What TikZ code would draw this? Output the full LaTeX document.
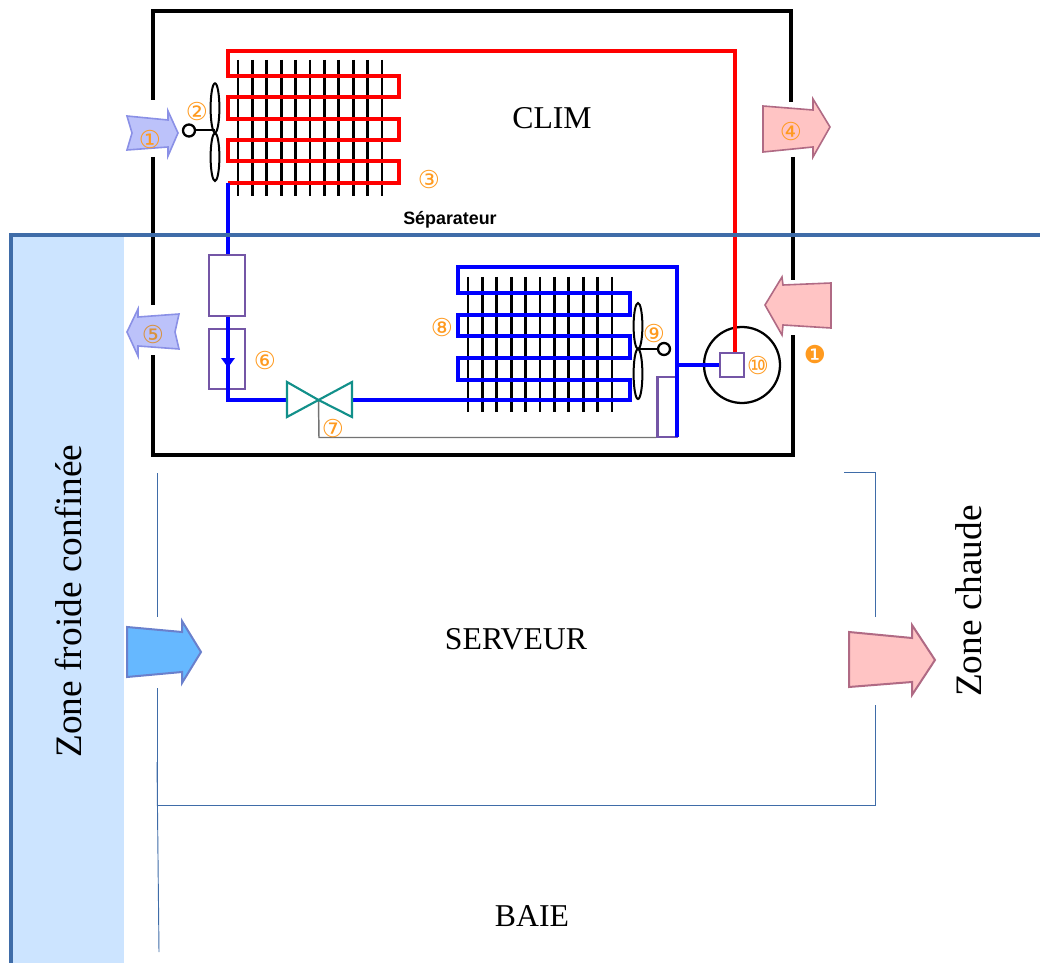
\documentclass[tikz,border=0pt]{standalone}
\usepackage{fontspec}
\setmainfont{Liberation Serif}
\newfontfamily\sepfont{Liberation Sans}
\newfontfamily\numfont{DejaVu Sans}
\usetikzlibrary{shapes.geometric}
\definecolor{zoneblue}{HTML}{CCE4FF}
\definecolor{lineblue}{HTML}{3F6CA8}
\definecolor{boxpurple}{HTML}{7456A6}
\definecolor{valveteal}{HTML}{12908A}
\definecolor{numorange}{HTML}{FF9A1F}
\definecolor{coldfill}{HTML}{BCC2FA}
\definecolor{coldedge}{HTML}{8A90E6}
\definecolor{hotfill}{HTML}{FFC4C4}
\definecolor{hotedge}{HTML}{B06A84}
\definecolor{serverfill}{HTML}{66B8FF}
\definecolor{serveredge}{HTML}{6A80CC}
\begin{document}
\begin{tikzpicture}[x=0.75pt,y=-0.75pt,line join=miter,
  wall/.style={line width=2.7pt,black},
  thinwall/.style={line width=0.7pt,lineblue},
  redpipe/.style={line width=3pt,red!100!black},
  bluepipe/.style={line width=3pt,blue},
  fin/.style={line width=2pt,black},
  partbox/.style={draw=boxpurple,line width=1.8pt,rectangle,inner sep=0pt},
  blade/.style={draw=black,line width=1.5pt,ellipse,inner sep=0pt,minimum width=6.6pt,minimum height=36pt},
  hub/.style={draw=black,line width=1.7pt,circle,inner sep=0pt,minimum size=9pt},
  coldflow/.style={draw=coldedge,fill=coldfill,line width=1.2pt},
  hotflow/.style={draw=hotedge,fill=hotfill,line width=1.2pt},
  num/.style={font=\numfont\fontsize{18.5}{18.5}\selectfont,text=numorange,inner sep=0pt,yshift=-1.2pt},
  label/.style={font=\fontsize{23.8}{28}\selectfont,inner sep=0pt},
  zone/.style={font=\fontsize{28}{32}\selectfont,inner sep=0pt,rotate=90}]
  \useasboundingbox (0,0) rectangle (1040,963);
  % zones
  \fill[zoneblue] (12,235) rectangle (124,963);
  \draw[wall] (153,100) -- (153,11) -- (791,11) -- (791,102);
  \draw[wall] (153,157) -- (153,305);
  \draw[wall] (153,355) -- (153,455) -- (793,455) -- (793,335);
  \draw[wall] (793,157) -- (793,280);
  \draw[thinwall] (157,473) -- (157,617);
  \draw[thinwall] (157,688) -- (157,805.5) -- (875,805.5) -- (875,705);
  \draw[thinwall] (875,617) -- (875,472) -- (844,472);
  \draw[thinwall] (157,762) -- (159,952);
  % fins
  \foreach \i in {0,...,10} {
    \draw[fin] (238+14.4*\i,60) -- (238+14.4*\i,196);
    \draw[fin] (468+14.4*\i,277) -- (468+14.4*\i,412);
  }
  % parts
  \node[partbox,minimum width=27pt,minimum height=45.5pt] (filterA) at (227,285.5) {};
  \node[partbox,minimum width=27pt,minimum height=45pt] (filterB) at (227,359) {};
  \node[partbox,minimum width=14.5pt,minimum height=45pt] (tank) at (667,407) {};
  \node[draw=black,line width=1.7pt,circle,inner sep=0pt,minimum size=57pt] (comp) at (742,365) {};
  \node[partbox,minimum width=18pt,minimum height=18pt] (compin) at (732,365) {};
  \coordinate (valve) at (318.5,400);
  \coordinate (redtop) at (735,51);
  \coordinate (redend) at (228,183);
  \coordinate (blueout) at (630,400);
  \coordinate (bluetop) at (677,267);
  % red circuit
  \draw[redpipe] (redtop |- compin.north) -- (redtop) -- (228,51) -- (228,76) -- (399,76) -- (399,97) -- (228,97) -- (228,119) -- (399,119) -- (399,140) -- (228,140) -- (228,161) -- (399,161) -- (399,183) -- (redend);
  % blue circuit
  \draw[bluepipe] (redend) -- (redend |- filterA.north);
  \draw[bluepipe] (redend |- filterA.south) -- (228,400) -- (287,400);
  \fill[blue] (221,358) -- (235,358) -- (228,367.5) -- cycle;
  \draw[bluepipe] (352,400) -- (blueout) -- (630,380) -- (458,380) -- (458,358) -- (630,358) -- (630,336) -- (458,336) -- (458,315) -- (630,315) -- (630,293) -- (458,293) -- (458,267) -- (bluetop) -- (677,437);
  \draw[bluepipe] (677,365) -- (compin.west);
  % valve
  \draw[gray!90!black,line width=1.1pt] (valve) -- (319,437.5) -- (tank.south west |- 0,437.5);
  \draw[valveteal,line width=1.6pt] (valve) -- (287,382) -- (287,417) -- cycle;
  \draw[valveteal,line width=1.6pt] (valve) -- (352,382) -- (352,417) -- cycle;
  % fans
  \node[hub] (hubA) at (189,130.5) {};
  \node[blade,minimum height=37pt] (bladeA) at (215,108) {};
  \node[blade,minimum height=36pt] (bladeB) at (215,157) {};
  \draw[line width=1.5pt] (hubA) -- (215,130.5);
  \node[hub] (hubB) at (664,349) {};
  \node[blade,minimum height=34.5pt] (bladeC) at (638,326) {};
  \node[blade,minimum height=37.5pt] (bladeD) at (638,374) {};
  \draw[line width=1.5pt] (hubB) -- (638,349);
  % air flows
  \draw[coldflow] (127,116) -- (168,120) -- (168,111) -- (178,133) -- (168,156) -- (168,147) -- (127,150) -- (132,133) -- cycle;
  \draw[coldflow] (127,332) -- (138,309) -- (138,317) -- (179,314) -- (175,332) -- (179,349) -- (138,346) -- (138,356) -- cycle;
  \draw[hotflow] (763,106) -- (813,110) -- (813,99) -- (830,127) -- (813,157) -- (813,147) -- (763,152) -- cycle;
  \draw[hotflow] (765,305) -- (782,277) -- (783,285) -- (831,283) -- (831,328) -- (783,325) -- (782,335) -- cycle;
  \draw[draw=serveredge,fill=serverfill,line width=1.5pt] (127,627) -- (182,632) -- (182,621) -- (201,652) -- (182,683) -- (182,672) -- (127,677) -- cycle;
  \draw[hotflow,line width=1.5pt] (849,632) -- (912,638) -- (912,625) -- (935,660) -- (912,695) -- (912,682) -- (849,687) -- cycle;
  % separator
  \draw[lineblue,line width=2.6pt] (11,963) -- (11,235) -- (1040,235);
  % numbers
  \node[num] (n1) at (150,138) {①};
  \node[num] (n2) at (197,110) {②};
  \node[num] (n3) at (429,178) {③};
  \node[num] (n4) at (791,130) {④};
  \node[num,text=numorange!70!gray] (n5) at (153,333) {⑤};
  \node[num] (n6) at (265,359) {⑥};
  \node[num] (n7) at (333,427) {⑦};
  \node[num] (n8) at (442,326) {⑧};
  \node[num] (n9) at (654,332) {⑨};
  \node[num] (n10) at (758,364) {⑩};
  \node[num] (n11) at (815,353) {❶};
  % labels
  \node[label] (clim) at (552,118) {CLIM};
  \node[inner sep=0pt,font=\sepfont\bfseries\fontsize{13.4}{15}\selectfont] (sep) at (450,220) {Séparateur};
  \node[label] (serveur) at (516,639) {SERVEUR};
  \node[label] (baie) at (532,916) {BAIE};
  \node[zone] (froide) at (69,601) {Zone froide confinée};
  \node[zone] (chaude) at (969,601) {Zone chaude};
\end{tikzpicture}
\end{document}
